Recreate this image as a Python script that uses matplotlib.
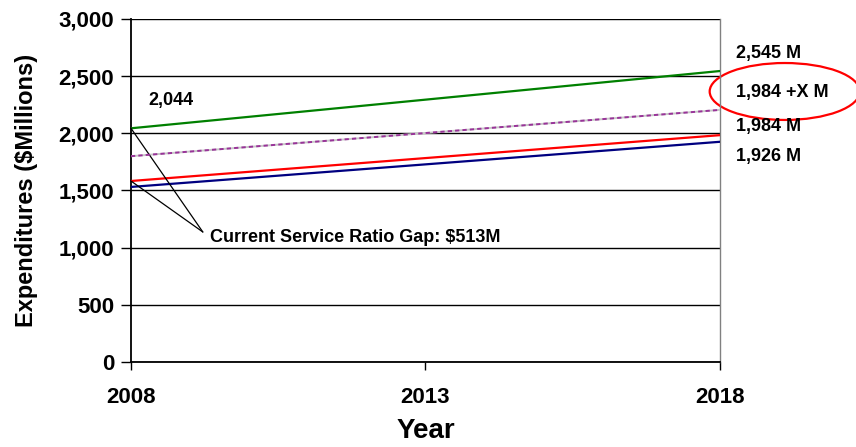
import matplotlib
matplotlib.use('Agg')
import matplotlib.pyplot as plt
from matplotlib.patches import Ellipse

plt.rcParams['font.family'] = ['Liberation Sans', 'DejaVu Sans']
plt.rcParams['font.weight'] = 'bold'

# values
years = [2008, 2018]
green_vals = [2044, 2545]
dotted_vals = [1800, 2205]
red_vals = [1583, 1984]
blue_vals = [1531, 1926]

y_ticks = [0, 500, 1000, 1500, 2000, 2500, 3000]
x_ticks = [2008, 2013, 2018]

end_labels = ['2,545 M', '1,984 +X M', '1,984 M', '1,926 M']
end_label_y = [2694, 2353, 2064, 1793]

fig = plt.figure(figsize=(8.56, 4.47), dpi=100)
ax = fig.add_axes([0.1530, 0.1902, 0.6881, 0.7673])

for y in y_ticks:
    ax.axhline(y, color='black', lw=1.0, zorder=1)

ax.plot(years, green_vals, color='#008000', lw=1.6, zorder=3)
ax.plot(years, dotted_vals, color='#c8c8c8', lw=1.4, zorder=3)
ax.plot(years, dotted_vals, color='#993399', lw=1.4, dashes=(2.2, 1.6), zorder=4)
ax.plot(years, red_vals, color='#ff0000', lw=1.6, zorder=3)
ax.plot(years, blue_vals, color='#000080', lw=1.6, zorder=3)

ax.set_xlim(2008, 2018)
ax.set_ylim(0, 3000)
ax.set_xticks(x_ticks)
ax.set_xticklabels([str(x) for x in x_ticks])
ax.set_yticks(y_ticks)
ax.set_yticklabels([f'{y:,}' for y in y_ticks])
ax.tick_params(axis='x', direction='out', length=6, width=1, pad=12, labelsize=16)
ax.tick_params(axis='y', direction='out', length=7, width=1, pad=5, labelsize=16)

ax.spines['top'].set_visible(False)
ax.spines['left'].set_linewidth(1.3)
ax.spines['bottom'].set_linewidth(1.3)
ax.spines['right'].set_color('#808080')
ax.spines['right'].set_linewidth(1.0)

ax.set_xlabel('Year', fontsize=20, fontweight='bold', labelpad=7)
ax.set_ylabel('Expenditures ($Millions)', fontsize=17, fontweight='bold', labelpad=15)

# annotations
ax.text(2008.29, 2291, f'{green_vals[0]:,}', fontsize=13, fontweight='bold',
        ha='left', va='center')
for lab, y in zip(end_labels, end_label_y):
    ax.text(2018.27, y, lab, fontsize=13, fontweight='bold', ha='left',
            va='center', clip_on=False)

gap_xy = (2009.22, 1137)
for start in (green_vals[0], red_vals[0]):
    ax.annotate('', xy=(2008, start), xytext=gap_xy,
                arrowprops=dict(arrowstyle='-', lw=0.9, color='black',
                                shrinkA=0, shrinkB=0))
ax.text(2009.34, 1093, 'Current Service Ratio Gap: $513M', fontsize=13,
        fontweight='bold', ha='left', va='center')

ell = Ellipse((2019.10, 2366), width=2.55, height=498, fill=False,
              edgecolor='#ff0000', lw=1.6, clip_on=False)
ax.add_patch(ell)

fig.savefig('out.png', dpi=100, facecolor='white')
